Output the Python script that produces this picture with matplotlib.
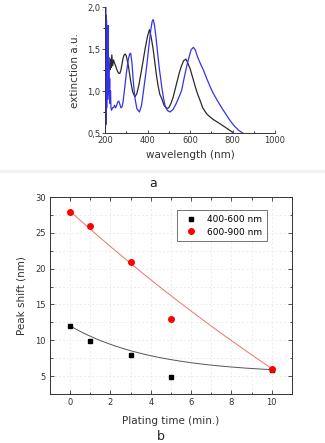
import numpy as np
import matplotlib
matplotlib.use("Agg")
import matplotlib.pyplot as plt
from matplotlib.ticker import MultipleLocator, FuncFormatter

# ---- panel a: extinction spectra ----
wl_black = [200, 203, 205, 208, 211, 214, 217, 220, 223, 226, 229, 232, 236, 240, 245, 250, 255, 260,
            265, 270, 275, 280, 285, 290, 295, 300, 310, 320, 330, 341, 350, 360, 370, 380, 390, 400,
            409, 415, 420, 427, 435, 443, 450, 458, 467, 478, 490, 500, 510, 520, 530, 540, 550, 560,
            570, 581, 590, 600, 608, 616, 625, 635, 647, 660, 670, 678, 690, 710, 741, 765, 788, 800]
ext_black = [0.97, 1.02, 0.96, 1.25, 1.05, 1.30, 1.20, 1.32, 1.25, 1.38, 1.28, 1.43, 1.30, 1.37, 1.33,
             1.30, 1.26, 1.23, 1.21, 1.21, 1.25, 1.32, 1.39, 1.43, 1.44, 1.42, 1.30, 1.13, 0.99, 0.93,
             0.97, 1.08, 1.22, 1.37, 1.52, 1.65, 1.73, 1.67, 1.60, 1.49, 1.33, 1.17, 1.06, 0.96, 0.91,
             0.83, 0.79, 0.80, 0.85, 0.92, 1.02, 1.12, 1.22, 1.30, 1.36, 1.38, 1.33, 1.27, 1.20, 1.13,
             1.05, 0.97, 0.89, 0.80, 0.76, 0.73, 0.70, 0.66, 0.61, 0.57, 0.53, 0.51]

wl_blue = [200, 201, 202, 203, 204, 205, 206, 207, 208, 209, 210, 211, 212, 213, 214, 215, 216, 218,
           220, 222, 224, 226, 228, 231, 235, 240, 245, 250, 255, 260, 265, 270, 275, 280, 285, 290,
           300, 310, 316, 321, 327, 333, 340, 350, 362, 372, 380, 390, 396, 405, 415, 422, 427, 433,
           440, 446, 455, 467, 475, 482, 493, 506, 520, 535, 550, 561, 572, 584, 595, 605, 616, 625,
           635, 650, 663, 680, 695, 710, 730, 757, 775, 788, 810, 830, 848]
ext_blue = [0.50, 1.95, 0.55, 2.00, 0.60, 1.90, 0.70, 1.85, 0.80, 1.60, 0.90, 1.55, 0.95, 1.78, 0.98,
            1.78, 1.00, 1.40, 0.90, 1.15, 0.85, 1.00, 0.80, 0.77, 0.80, 0.80, 0.83, 0.80, 0.83, 0.87,
            0.88, 0.84, 0.80, 0.81, 0.87, 0.98, 1.20, 1.38, 1.44, 1.45, 1.33, 1.12, 0.93, 0.79, 0.75,
            0.83, 0.98, 1.17, 1.29, 1.50, 1.72, 1.83, 1.85, 1.78, 1.64, 1.49, 1.28, 1.05, 0.92, 0.83,
            0.77, 0.75, 0.78, 0.85, 0.94, 1.01, 1.15, 1.29, 1.40, 1.49, 1.52, 1.49, 1.41, 1.32, 1.25,
            1.14, 1.05, 0.97, 0.88, 0.77, 0.70, 0.65, 0.58, 0.53, 0.50]

# ---- panel b: peak shift ----
time_400 = [0, 1, 3, 5, 10]
shift_400 = [12.0, 9.9, 7.9, 4.9, 5.9]
time_600 = [0, 1, 3, 5, 10]
shift_600 = [27.9, 26.0, 20.9, 12.9, 6.0]
# exponential-decay fit parameters (y0, A, t)
fit_400 = (5.3, 6.7, 4.13)
fit_600 = (-58.8, 86.8, 34.3)
labels_b = ["400-600 nm", "600-900 nm"]

W, H = 325, 443
fig = plt.figure(figsize=(W / 100, H / 100), dpi=100)
fig.patch.set_facecolor("white")
txt = "#333333"

# ---------- panel a ----------
ax1 = fig.add_axes([105 / W, 1 - 133 / H, 170 / W, 126 / H])
ax1.plot(wl_black, ext_black, color="#2a2a2a", lw=0.9)
ax1.plot(wl_blue, ext_blue, color="#3333ee", lw=0.9)
ax1.set_xlim(200, 1000)
ax1.set_ylim(0.5, 2.0)
for s in ["top", "right"]:
    ax1.spines[s].set_visible(False)
for s in ["left", "bottom"]:
    ax1.spines[s].set_linewidth(0.7)
    ax1.spines[s].set_color("#333333")
ax1.xaxis.set_major_locator(MultipleLocator(200))
ax1.xaxis.set_minor_locator(MultipleLocator(100))
ax1.yaxis.set_major_locator(MultipleLocator(0.5))
ax1.yaxis.set_minor_locator(MultipleLocator(0.25))
ax1.yaxis.set_major_formatter(FuncFormatter(lambda v, p: f"{v:.1f}".replace(".", ",")))
ax1.tick_params(axis="x", direction="in", length=2.5, width=0.6, labelsize=6, pad=2, colors=txt)
ax1.tick_params(axis="x", which="minor", direction="in", length=1.5, width=0.6)
ax1.tick_params(axis="y", direction="out", length=2.5, width=0.6, labelsize=6, pad=1, colors=txt)
ax1.tick_params(axis="y", which="minor", direction="out", length=1.5, width=0.6)
ax1.set_xlabel("wavelength (nm)", fontsize=7.5, color=txt, labelpad=4)
ax1.set_ylabel("extinction a.u.", fontsize=7.5, color=txt, labelpad=5)
fig.text(153 / W, 1 - 183 / H, "a", fontsize=9, ha="center", va="center", color="#222222")
fig.add_artist(plt.Line2D([0.0, 1.0], [1 - 171 / H, 1 - 171 / H], color="#f2f2f2", lw=2))

# ---------- panel b ----------
ax2 = fig.add_axes([50 / W, 1 - 394 / H, 242 / W, 197 / H])
xx = np.linspace(0, 10, 200)
y0, A, t = fit_400
ax2.plot(xx, y0 + A * np.exp(-xx / t), color="#555555", lw=0.7, zorder=2)
y0, A, t = fit_600
ax2.plot(xx, y0 + A * np.exp(-xx / t), color="#f07070", lw=0.7, zorder=2)
ax2.plot(time_400, shift_400, ls="none", marker="s", ms=3.5, color="black", label=labels_b[0], zorder=3)
ax2.plot(time_600, shift_600, ls="none", marker="o", ms=4, color="red", label=labels_b[1], zorder=3)
ax2.set_xlim(-1, 11)
ax2.set_ylim(2.5, 30)
ax2.xaxis.set_major_locator(MultipleLocator(2))
ax2.xaxis.set_minor_locator(MultipleLocator(1))
ax2.yaxis.set_major_locator(MultipleLocator(5))
ax2.yaxis.set_minor_locator(MultipleLocator(2.5))
ax2.grid(True, which="both", color="#e6e6e6", ls=(0, (3, 3)), lw=0.5)
ax2.set_axisbelow(True)
for s in ax2.spines.values():
    s.set_linewidth(0.7)
    s.set_color("#333333")
ax2.tick_params(which="both", direction="in", top=True, right=True, width=0.6, colors=txt)
ax2.tick_params(which="major", length=3, labelsize=6, pad=3)
ax2.tick_params(which="minor", length=1.8)
ax2.set_xlabel("Plating time (min.)", fontsize=7.5, color=txt, labelpad=6)
ax2.set_ylabel("Peak shift (nm)", fontsize=7.5, color=txt, labelpad=6)
leg = ax2.legend(loc="upper right", fontsize=6.5, frameon=True, fancybox=False,
                 edgecolor="#333333", borderpad=0.5, handletextpad=0.8, labelspacing=0.4,
                 bbox_to_anchor=(0.915, 0.955))
leg.get_frame().set_linewidth(0.6)
fig.text(161 / W, 1 - 436 / H, "b", fontsize=9, ha="center", va="center", color="#222222")

fig.savefig("out.png", dpi=100, facecolor="white")
